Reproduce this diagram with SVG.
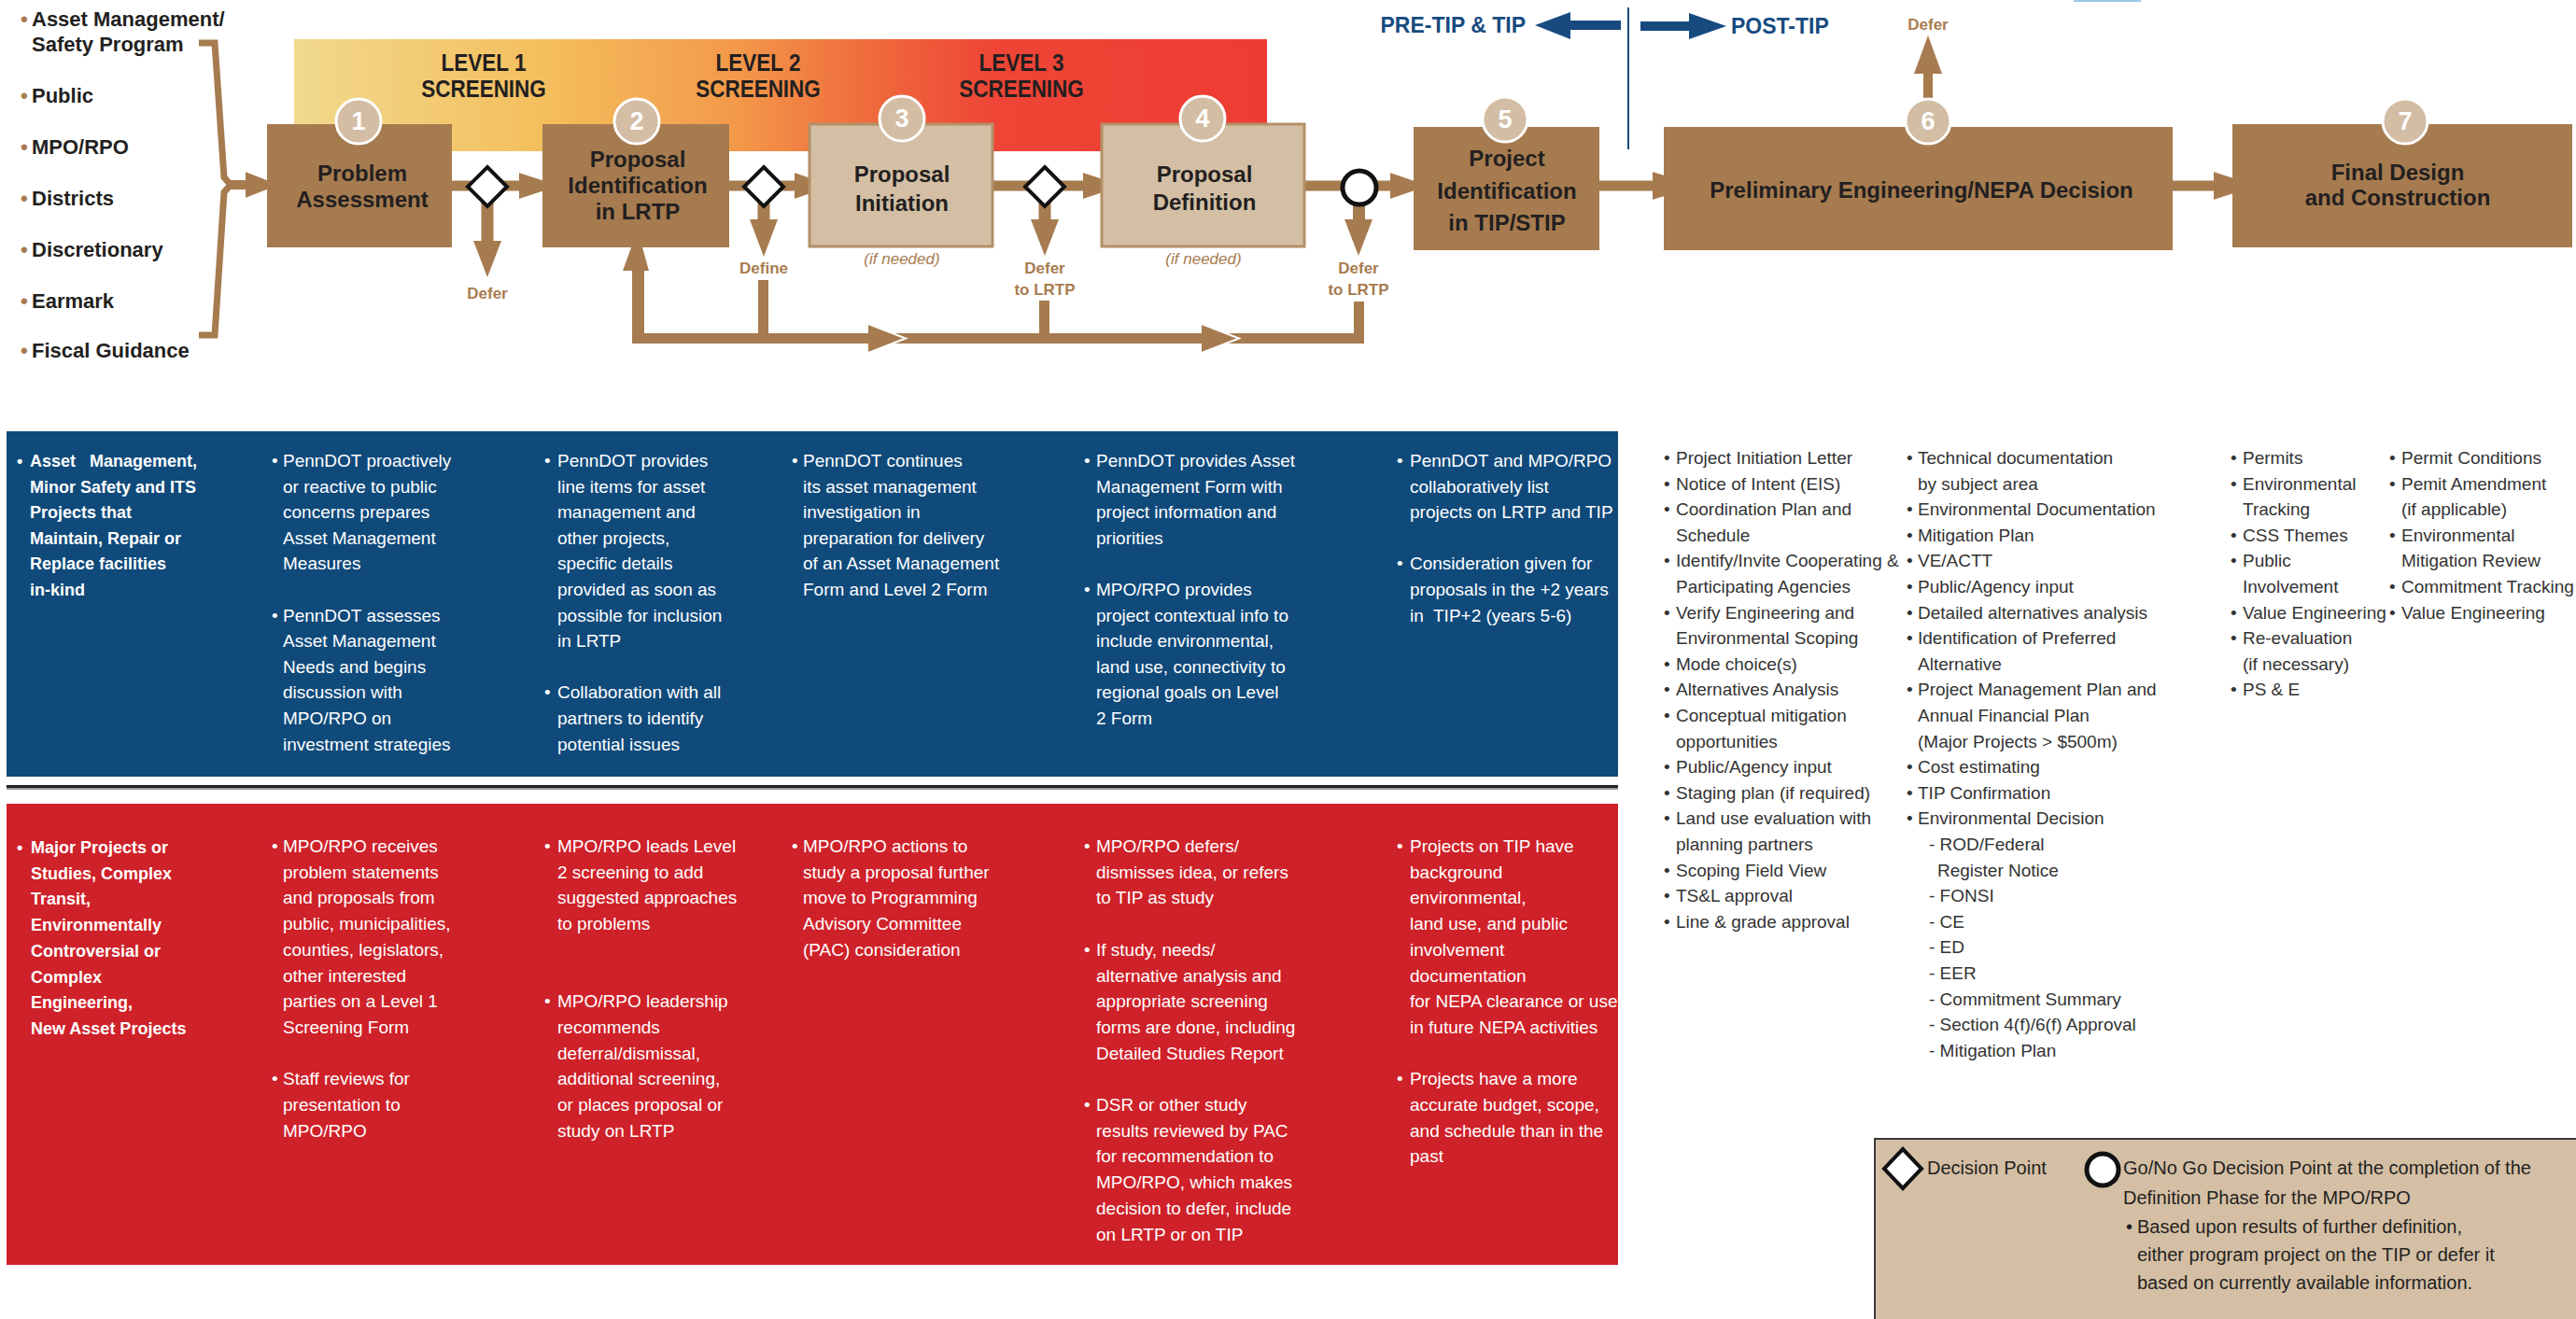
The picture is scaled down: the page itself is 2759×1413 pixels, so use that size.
<svg xmlns="http://www.w3.org/2000/svg" width="2759" height="1413" viewBox="0 0 2759 1413">
<defs>
<linearGradient id="band" x1="0" y1="0" x2="1" y2="0">
<stop offset="0" stop-color="#f1d98e"/>
<stop offset="0.25" stop-color="#f4bf5e"/>
<stop offset="0.45" stop-color="#f39a4a"/>
<stop offset="0.6" stop-color="#ef683c"/>
<stop offset="0.72" stop-color="#ee4536"/>
<stop offset="1" stop-color="#ee3c33"/>
</linearGradient>
</defs>
<style>
text{font-family:'Liberation Sans',Arial,sans-serif;}
.src{font-size:22px;font-weight:bold;fill:#231f20;}
.dot{font-size:22px;font-weight:bold;fill:#a67b4f;}
.box{fill:#a67b4f;}
.lbox{fill:#d4bfa5;stroke:#b49068;stroke-width:3;}
.bl{font-size:24px;font-weight:bold;fill:#231f20;text-anchor:middle;}
.lvl{font-size:25px;font-weight:bold;fill:#231f20;text-anchor:middle;}
.num{fill:#d3bda4;stroke:#fff;stroke-width:3;}
.numt{font-size:27px;font-weight:bold;fill:#fff;text-anchor:middle;}
.dia{fill:#fff;stroke:#111;stroke-width:4;}
.br{fill:#a67b4f;}
.brs{fill:none;stroke:#a67b4f;}
.ahs{fill:none;stroke:#fff;stroke-width:2;}
.tan{font-size:17px;font-weight:bold;fill:#a87c4f;text-anchor:middle;}
.ifn{font-size:17px;font-style:italic;fill:#a87c4f;text-anchor:middle;}
.tip{font-size:23px;font-weight:bold;fill:#174b80;}
.pt{font-size:19px;fill:#fff;}
.pb{font-size:18px;font-weight:bold;fill:#fff;}
.gl{font-size:19px;fill:#333;}
.lg{font-size:20px;fill:#231f20;}
</style>

<rect x="2221" y="0" width="72" height="2" fill="#9cc8e6"/>

<g id="sources">
<text class="dot" x="22" y="28">•</text><text class="src" x="34" y="28">Asset Management/</text>
<text class="src" x="34" y="55">Safety Program</text>
<text class="dot" x="22" y="110">•</text><text class="src" x="34" y="110">Public</text>
<text class="dot" x="22" y="165">•</text><text class="src" x="34" y="165">MPO/RPO</text>
<text class="dot" x="22" y="220">•</text><text class="src" x="34" y="220">Districts</text>
<text class="dot" x="22" y="275">•</text><text class="src" x="34" y="275">Discretionary</text>
<text class="dot" x="22" y="330">•</text><text class="src" x="34" y="330">Earmark</text>
<text class="dot" x="22" y="383">•</text><text class="src" x="34" y="383">Fiscal Guidance</text>
</g>

<g id="screening-band">
<rect x="315" y="42" width="1042" height="120" fill="url(#band)"/>
<g transform="translate(518 0) scale(0.9 1)">
<text class="lvl" x="0" y="76">LEVEL 1</text>
<text class="lvl" x="0" y="104">SCREENING</text>
</g>
<g transform="translate(812 0) scale(0.9 1)">
<text class="lvl" x="0" y="76">LEVEL 2</text>
<text class="lvl" x="0" y="104">SCREENING</text>
</g>
<g transform="translate(1094 0) scale(0.9 1)">
<text class="lvl" x="0" y="76">LEVEL 3</text>
<text class="lvl" x="0" y="104">SCREENING</text>
</g>
</g>

<g id="tip-divider">
<line x1="1744" y1="8" x2="1744" y2="160" stroke="#174b80" stroke-width="2"/>
<polygon points="1644,27 1682,13 1682,22 1736,22 1736,32 1682,32 1682,42" fill="#174b80"/>
<polygon points="1849,28 1809,14 1809,23 1757,23 1757,33 1809,33 1809,42" fill="#174b80"/>
<text class="tip" x="1634" y="35" text-anchor="end">PRE-TIP &amp; TIP</text>
<text class="tip" x="1854" y="36">POST-TIP</text>
</g>

<g id="connectors">
<polyline class="brs" stroke-width="7" points="213,46 230,46 240,190 247,198 240,206 230,359 213,359"/>
<rect class="br" x="245" y="193" width="20" height="10"/>
<polygon class="br" points="263,183 301,198 263,213"/>
<polyline class="ahs" points="263,183 301,198 263,213"/>

<rect class="br" x="484" y="193.5" width="76" height="11"/>
<polygon class="br" points="556,184 602,199 556,214"/>
<polyline class="ahs" points="556,184 602,199 556,214"/>

<rect class="br" x="781" y="193.5" width="75" height="11"/>
<polygon class="br" points="851,184 895,199 851,214"/>
<polyline class="ahs" points="851,184 895,199 851,214"/>

<rect class="br" x="1063" y="193.5" width="102" height="11"/>
<polygon class="br" points="1160,184 1206,199 1160,214"/>
<polyline class="ahs" points="1160,184 1206,199 1160,214"/>

<rect class="br" x="1397" y="193.5" width="96" height="11"/>
<polygon class="br" points="1489,184 1533,199 1489,214"/>
<polyline class="ahs" points="1489,184 1533,199 1489,214"/>

<rect class="br" x="1713" y="193.5" width="62" height="11"/>
<polygon class="br" points="1770,183 1820,199 1770,215"/>
<polyline class="ahs" points="1770,183 1820,199 1770,215"/>

<rect class="br" x="2327" y="193.5" width="48" height="11"/>
<polygon class="br" points="2371,183 2420,199 2371,215"/>
<polyline class="ahs" points="2371,183 2420,199 2371,215"/>

<rect class="br" x="515.5" y="215" width="13" height="45"/>
<polygon class="br" points="507,258 537,258 522,297"/>

<rect class="br" x="811.5" y="215" width="13" height="22"/>
<polygon class="br" points="803,235 833,235 818,275"/>

<rect class="br" x="1112.5" y="215" width="13" height="22"/>
<polygon class="br" points="1104,235 1134,235 1119,274"/>

<rect class="br" x="1449" y="215" width="13" height="22"/>
<polygon class="br" points="1440,235 1470,235 1455,274"/>

<rect class="br" x="2060" y="76" width="10" height="31"/>
<polygon class="br" points="2050,79 2080,79 2065,38"/>

<rect class="br" x="812" y="300" width="11" height="67"/>
<rect class="br" x="1113" y="322" width="11" height="45"/>
<rect class="br" x="1450" y="323" width="11" height="45"/>
<rect class="br" x="677" y="357" width="784" height="11"/>
<rect class="br" x="677" y="288" width="13" height="80"/>
<polygon class="br" points="666,290 696,290 683,243"/>
<polyline class="ahs" points="666,290 683,243 696,290"/>
<polygon class="br" points="930,347 970,362.5 930,378"/>
<polyline class="ahs" points="930,347 970,362.5 930,378"/>
<polygon class="br" points="1287,347 1327,362.5 1287,378"/>
<polyline class="ahs" points="1287,347 1327,362.5 1287,378"/>
</g>

<g id="labels">
<text class="tan" x="522" y="320">Defer</text>
<text class="tan" x="818" y="293">Define</text>
<text class="tan" x="1119" y="293">Defer</text>
<text class="tan" x="1119" y="316">to LRTP</text>
<text class="tan" x="1455" y="293">Defer</text>
<text class="tan" x="1455" y="316">to LRTP</text>
<text class="tan" x="2065" y="32">Defer</text>
<text class="ifn" x="966" y="283">(if needed)</text>
<text class="ifn" x="1289" y="283">(if needed)</text>
</g>

<g id="decision-1"><polygon class="dia" points="522,179 543,200 522,221 501,200"/></g>
<g id="decision-2"><polygon class="dia" points="818,179 839,200 818,221 797,200"/></g>
<g id="decision-3"><polygon class="dia" points="1119,179 1140,200 1119,221 1098,200"/></g>
<g id="gonogo"><circle cx="1456" cy="201" r="18" fill="#fff" stroke="#111" stroke-width="5"/></g>

<g id="step-1">
<rect class="box" x="286" y="133" width="198" height="132"/>
<circle class="num" cx="384" cy="130" r="24"/>
<text class="numt" x="384" y="139">1</text>
<text class="bl" x="388" y="194">Problem</text>
<text class="bl" x="388" y="222">Assessment</text>
</g>
<g id="step-2">
<rect class="box" x="581" y="133" width="200" height="132"/>
<circle class="num" cx="682" cy="130" r="24"/>
<text class="numt" x="682" y="139">2</text>
<text class="bl" x="683" y="179">Proposal</text>
<text class="bl" x="683" y="207">Identification</text>
<text class="bl" x="683" y="235">in LRTP</text>
</g>
<g id="step-3">
<rect class="lbox" x="867" y="133" width="196" height="131"/>
<circle class="num" cx="966" cy="127" r="24"/>
<text class="numt" x="966" y="136">3</text>
<text class="bl" x="966" y="195">Proposal</text>
<text class="bl" x="966" y="226">Initiation</text>
</g>
<g id="step-4">
<rect class="lbox" x="1180" y="133" width="217" height="131"/>
<circle class="num" cx="1288" cy="127" r="24"/>
<text class="numt" x="1288" y="136">4</text>
<text class="bl" x="1290" y="195">Proposal</text>
<text class="bl" x="1290" y="225">Definition</text>
</g>
<g id="step-5">
<rect class="box" x="1514" y="136" width="199" height="132"/>
<circle class="num" cx="1612" cy="128" r="24"/>
<text class="numt" x="1612" y="137">5</text>
<text class="bl" x="1614" y="178">Project</text>
<text class="bl" x="1614" y="213">Identification</text>
<text class="bl" x="1614" y="247">in TIP/STIP</text>
</g>
<g id="step-6">
<rect class="box" x="1782" y="136" width="545" height="132"/>
<circle class="num" cx="2065" cy="130" r="24"/>
<text class="numt" x="2065" y="139">6</text>
<text class="bl" x="2058" y="212">Preliminary Engineering/NEPA Decision</text>
</g>
<g id="step-7">
<rect class="box" x="2391" y="133" width="364" height="132"/>
<circle class="num" cx="2576" cy="130" r="24"/>
<text class="numt" x="2576" y="139">7</text>
<text class="bl" x="2568" y="193">Final Design</text>
<text class="bl" x="2568" y="220">and Construction</text>
</g>

<g id="asset-panel">
<rect x="7" y="462" width="1726" height="370" fill="#0f4a7b"/>
<text class="pb" x="18" y="500">•</text>
<text class="pb" x="32" y="500" xml:space="preserve">Asset   Management,</text>
<text class="pb" x="32" y="527.6">Minor Safety and ITS</text>
<text class="pb" x="32" y="555.2">Projects that</text>
<text class="pb" x="32" y="582.8">Maintain, Repair or</text>
<text class="pb" x="32" y="610.4">Replace facilities</text>
<text class="pb" x="32" y="638">in-kind</text>

<text class="pt" x="291" y="500">•</text>
<text class="pt" x="303" y="500">PennDOT proactively</text>
<text class="pt" x="303" y="527.6">or reactive to public</text>
<text class="pt" x="303" y="555.2">concerns prepares</text>
<text class="pt" x="303" y="582.8">Asset Management</text>
<text class="pt" x="303" y="610.4">Measures</text>
<text class="pt" x="291" y="665.6">•</text>
<text class="pt" x="303" y="665.6">PennDOT assesses</text>
<text class="pt" x="303" y="693.2">Asset Management</text>
<text class="pt" x="303" y="720.8">Needs and begins</text>
<text class="pt" x="303" y="748.4">discussion with</text>
<text class="pt" x="303" y="776">MPO/RPO on</text>
<text class="pt" x="303" y="803.6">investment strategies</text>

<text class="pt" x="583" y="500">•</text>
<text class="pt" x="597" y="500">PennDOT provides</text>
<text class="pt" x="597" y="527.6">line items for asset</text>
<text class="pt" x="597" y="555.2">management and</text>
<text class="pt" x="597" y="582.8">other projects,</text>
<text class="pt" x="597" y="610.4">specific details</text>
<text class="pt" x="597" y="638">provided as soon as</text>
<text class="pt" x="597" y="665.6">possible for inclusion</text>
<text class="pt" x="597" y="693.2">in LRTP</text>
<text class="pt" x="583" y="748.4">•</text>
<text class="pt" x="597" y="748.4">Collaboration with all</text>
<text class="pt" x="597" y="776">partners to identify</text>
<text class="pt" x="597" y="803.6">potential issues</text>

<text class="pt" x="848" y="500">•</text>
<text class="pt" x="860" y="500">PennDOT continues</text>
<text class="pt" x="860" y="527.6">its asset management</text>
<text class="pt" x="860" y="555.2">investigation in</text>
<text class="pt" x="860" y="582.8">preparation for delivery</text>
<text class="pt" x="860" y="610.4">of an Asset Management</text>
<text class="pt" x="860" y="638">Form and Level 2 Form</text>

<text class="pt" x="1161" y="500">•</text>
<text class="pt" x="1174" y="500">PennDOT provides Asset</text>
<text class="pt" x="1174" y="527.6">Management Form with</text>
<text class="pt" x="1174" y="555.2">project information and</text>
<text class="pt" x="1174" y="582.8">priorities</text>
<text class="pt" x="1161" y="638">•</text>
<text class="pt" x="1174" y="638">MPO/RPO provides</text>
<text class="pt" x="1174" y="665.6">project contextual info to</text>
<text class="pt" x="1174" y="693.2">include environmental,</text>
<text class="pt" x="1174" y="720.8">land use, connectivity to</text>
<text class="pt" x="1174" y="748.4">regional goals on Level</text>
<text class="pt" x="1174" y="776">2 Form</text>

<text class="pt" x="1496" y="500">•</text>
<text class="pt" x="1510" y="500">PennDOT and MPO/RPO</text>
<text class="pt" x="1510" y="527.6">collaboratively list</text>
<text class="pt" x="1510" y="555.2">projects on LRTP and TIP</text>
<text class="pt" x="1496" y="610.4">•</text>
<text class="pt" x="1510" y="610.4">Consideration given for</text>
<text class="pt" x="1510" y="638">proposals in the +2 years</text>
<text class="pt" x="1510" y="665.6" xml:space="preserve">in  TIP+2 (years 5-6)</text>
</g>

<g id="separator">
<rect x="7" y="841" width="1726" height="3" fill="#222"/>
<rect x="7" y="844" width="1726" height="2" fill="#999"/>
</g>

<g id="major-panel">
<rect x="7" y="861" width="1726" height="494" fill="#cf2129"/>
<text class="pb" x="18" y="914">•</text>
<text class="pb" x="33" y="914">Major Projects or</text>
<text class="pb" x="33" y="941.7">Studies, Complex</text>
<text class="pb" x="33" y="969.4">Transit,</text>
<text class="pb" x="33" y="997.1">Environmentally</text>
<text class="pb" x="33" y="1024.8">Controversial or</text>
<text class="pb" x="33" y="1052.5">Complex</text>
<text class="pb" x="33" y="1080.2">Engineering,</text>
<text class="pb" x="33" y="1107.9">New Asset Projects</text>

<text class="pt" x="291" y="913">•</text>
<text class="pt" x="303" y="913">MPO/RPO receives</text>
<text class="pt" x="303" y="940.7">problem statements</text>
<text class="pt" x="303" y="968.4">and proposals from</text>
<text class="pt" x="303" y="996.1">public, municipalities,</text>
<text class="pt" x="303" y="1023.8">counties, legislators,</text>
<text class="pt" x="303" y="1051.5">other interested</text>
<text class="pt" x="303" y="1079.2">parties on a Level 1</text>
<text class="pt" x="303" y="1106.9">Screening Form</text>
<text class="pt" x="291" y="1162.3">•</text>
<text class="pt" x="303" y="1162.3">Staff reviews for</text>
<text class="pt" x="303" y="1190">presentation to</text>
<text class="pt" x="303" y="1217.7">MPO/RPO</text>

<text class="pt" x="583" y="913">•</text>
<text class="pt" x="597" y="913">MPO/RPO leads Level</text>
<text class="pt" x="597" y="940.7">2 screening to add</text>
<text class="pt" x="597" y="968.4">suggested approaches</text>
<text class="pt" x="597" y="996.1">to problems</text>
<text class="pt" x="583" y="1079.2">•</text>
<text class="pt" x="597" y="1079.2">MPO/RPO leadership</text>
<text class="pt" x="597" y="1106.9">recommends</text>
<text class="pt" x="597" y="1134.6">deferral/dismissal,</text>
<text class="pt" x="597" y="1162.3">additional screening,</text>
<text class="pt" x="597" y="1190">or places proposal or</text>
<text class="pt" x="597" y="1217.7">study on LRTP</text>

<text class="pt" x="848" y="913">•</text>
<text class="pt" x="860" y="913">MPO/RPO actions to</text>
<text class="pt" x="860" y="940.7">study a proposal further</text>
<text class="pt" x="860" y="968.4">move to Programming</text>
<text class="pt" x="860" y="996.1">Advisory Committee</text>
<text class="pt" x="860" y="1023.8">(PAC) consideration</text>

<text class="pt" x="1161" y="913">•</text>
<text class="pt" x="1174" y="913">MPO/RPO defers/</text>
<text class="pt" x="1174" y="940.7">dismisses idea, or refers</text>
<text class="pt" x="1174" y="968.4">to TIP as study</text>
<text class="pt" x="1161" y="1023.8">•</text>
<text class="pt" x="1174" y="1023.8">If study, needs/</text>
<text class="pt" x="1174" y="1051.5">alternative analysis and</text>
<text class="pt" x="1174" y="1079.2">appropriate screening</text>
<text class="pt" x="1174" y="1106.9">forms are done, including</text>
<text class="pt" x="1174" y="1134.6">Detailed Studies Report</text>
<text class="pt" x="1161" y="1190">•</text>
<text class="pt" x="1174" y="1190">DSR or other study</text>
<text class="pt" x="1174" y="1217.7">results reviewed by PAC</text>
<text class="pt" x="1174" y="1245.4">for recommendation to</text>
<text class="pt" x="1174" y="1273.1">MPO/RPO, which makes</text>
<text class="pt" x="1174" y="1300.8">decision to defer, include</text>
<text class="pt" x="1174" y="1328.5">on LRTP or on TIP</text>

<text class="pt" x="1496" y="913">•</text>
<text class="pt" x="1510" y="913">Projects on TIP have</text>
<text class="pt" x="1510" y="940.7">background</text>
<text class="pt" x="1510" y="968.4">environmental,</text>
<text class="pt" x="1510" y="996.1">land use, and public</text>
<text class="pt" x="1510" y="1023.8">involvement</text>
<text class="pt" x="1510" y="1051.5">documentation</text>
<text class="pt" x="1510" y="1079.2">for NEPA clearance or use</text>
<text class="pt" x="1510" y="1106.9">in future NEPA activities</text>
<text class="pt" x="1496" y="1162.3">•</text>
<text class="pt" x="1510" y="1162.3">Projects have a more</text>
<text class="pt" x="1510" y="1190">accurate budget, scope,</text>
<text class="pt" x="1510" y="1217.7">and schedule than in the</text>
<text class="pt" x="1510" y="1245.4">past</text>
</g>

<g id="deliverables-tip">
<text class="gl" x="1782" y="497">•</text><text class="gl" x="1795" y="497">Project Initiation Letter</text>
<text class="gl" x="1782" y="524.6">•</text><text class="gl" x="1795" y="524.6">Notice of Intent (EIS)</text>
<text class="gl" x="1782" y="552.2">•</text><text class="gl" x="1795" y="552.2">Coordination Plan and</text>
<text class="gl" x="1795" y="579.8">Schedule</text>
<text class="gl" x="1782" y="607.4">•</text><text class="gl" x="1795" y="607.4">Identify/Invite Cooperating &amp;</text>
<text class="gl" x="1795" y="635">Participating Agencies</text>
<text class="gl" x="1782" y="662.6">•</text><text class="gl" x="1795" y="662.6">Verify Engineering and</text>
<text class="gl" x="1795" y="690.2">Environmental Scoping</text>
<text class="gl" x="1782" y="717.8">•</text><text class="gl" x="1795" y="717.8">Mode choice(s)</text>
<text class="gl" x="1782" y="745.4">•</text><text class="gl" x="1795" y="745.4">Alternatives Analysis</text>
<text class="gl" x="1782" y="773">•</text><text class="gl" x="1795" y="773">Conceptual mitigation</text>
<text class="gl" x="1795" y="800.6">opportunities</text>
<text class="gl" x="1782" y="828.2">•</text><text class="gl" x="1795" y="828.2">Public/Agency input</text>
<text class="gl" x="1782" y="855.8">•</text><text class="gl" x="1795" y="855.8">Staging plan (if required)</text>
<text class="gl" x="1782" y="883.4">•</text><text class="gl" x="1795" y="883.4">Land use evaluation with</text>
<text class="gl" x="1795" y="911">planning partners</text>
<text class="gl" x="1782" y="938.6">•</text><text class="gl" x="1795" y="938.6">Scoping Field View</text>
<text class="gl" x="1782" y="966.2">•</text><text class="gl" x="1795" y="966.2">TS&amp;L approval</text>
<text class="gl" x="1782" y="993.8">•</text><text class="gl" x="1795" y="993.8">Line &amp; grade approval</text>
</g>

<g id="deliverables-pe">
<text class="gl" x="2042" y="497">•</text><text class="gl" x="2054" y="497">Technical documentation</text>
<text class="gl" x="2054" y="524.6">by subject area</text>
<text class="gl" x="2042" y="552.2">•</text><text class="gl" x="2054" y="552.2">Environmental Documentation</text>
<text class="gl" x="2042" y="579.8">•</text><text class="gl" x="2054" y="579.8">Mitigation Plan</text>
<text class="gl" x="2042" y="607.4">•</text><text class="gl" x="2054" y="607.4">VE/ACTT</text>
<text class="gl" x="2042" y="635">•</text><text class="gl" x="2054" y="635">Public/Agency input</text>
<text class="gl" x="2042" y="662.6">•</text><text class="gl" x="2054" y="662.6">Detailed alternatives analysis</text>
<text class="gl" x="2042" y="690.2">•</text><text class="gl" x="2054" y="690.2">Identification of Preferred</text>
<text class="gl" x="2054" y="717.8">Alternative</text>
<text class="gl" x="2042" y="745.4">•</text><text class="gl" x="2054" y="745.4">Project Management Plan and</text>
<text class="gl" x="2054" y="773">Annual Financial Plan</text>
<text class="gl" x="2054" y="800.6">(Major Projects &gt; $500m)</text>
<text class="gl" x="2042" y="828.2">•</text><text class="gl" x="2054" y="828.2">Cost estimating</text>
<text class="gl" x="2042" y="855.8">•</text><text class="gl" x="2054" y="855.8">TIP Confirmation</text>
<text class="gl" x="2042" y="883.4">•</text><text class="gl" x="2054" y="883.4">Environmental Decision</text>
<text class="gl" x="2066" y="911">- ROD/Federal</text>
<text class="gl" x="2075" y="938.6">Register Notice</text>
<text class="gl" x="2066" y="966.2">- FONSI</text>
<text class="gl" x="2066" y="993.8">- CE</text>
<text class="gl" x="2066" y="1021.4">- ED</text>
<text class="gl" x="2066" y="1049">- EER</text>
<text class="gl" x="2066" y="1076.6">- Commitment Summary</text>
<text class="gl" x="2066" y="1104.2">- Section 4(f)/6(f) Approval</text>
<text class="gl" x="2066" y="1131.8">- Mitigation Plan</text>
</g>

<g id="deliverables-final">
<text class="gl" x="2389" y="497">•</text><text class="gl" x="2402" y="497">Permits</text>
<text class="gl" x="2389" y="524.6">•</text><text class="gl" x="2402" y="524.6">Environmental</text>
<text class="gl" x="2402" y="552.2">Tracking</text>
<text class="gl" x="2389" y="579.8">•</text><text class="gl" x="2402" y="579.8">CSS Themes</text>
<text class="gl" x="2389" y="607.4">•</text><text class="gl" x="2402" y="607.4">Public</text>
<text class="gl" x="2402" y="635">Involvement</text>
<text class="gl" x="2389" y="662.6">•</text><text class="gl" x="2402" y="662.6">Value Engineering</text>
<text class="gl" x="2389" y="690.2">•</text><text class="gl" x="2402" y="690.2">Re-evaluation</text>
<text class="gl" x="2402" y="717.8">(if necessary)</text>
<text class="gl" x="2389" y="745.4">•</text><text class="gl" x="2402" y="745.4">PS &amp; E</text>

<text class="gl" x="2559" y="497">•</text><text class="gl" x="2572" y="497">Permit Conditions</text>
<text class="gl" x="2559" y="524.6">•</text><text class="gl" x="2572" y="524.6">Pemit Amendment</text>
<text class="gl" x="2572" y="552.2">(if applicable)</text>
<text class="gl" x="2559" y="579.8">•</text><text class="gl" x="2572" y="579.8">Environmental</text>
<text class="gl" x="2572" y="607.4">Mitigation Review</text>
<text class="gl" x="2559" y="635">•</text><text class="gl" x="2572" y="635">Commitment Tracking</text>
<text class="gl" x="2559" y="662.6">•</text><text class="gl" x="2572" y="662.6">Value Engineering</text>
</g>

<g id="legend">
<rect x="2008" y="1220" width="760" height="210" fill="#d4bfa5" stroke="#3a3a3a" stroke-width="2"/>
<polygon class="dia" points="2038,1231 2058,1252 2038,1273 2018,1252"/>
<text class="lg" x="2064" y="1258">Decision Point</text>
<circle cx="2252" cy="1253" r="17" fill="#fff" stroke="#111" stroke-width="5"/>
<text class="lg" x="2274" y="1258">Go/No Go Decision Point at the completion of the</text>
<text class="lg" x="2274" y="1290">Definition Phase for the MPO/RPO</text>
<text class="lg" x="2277" y="1321">•</text>
<text class="lg" x="2289" y="1321">Based upon results of further definition,</text>
<text class="lg" x="2289" y="1351">either program project on the TIP or defer it</text>
<text class="lg" x="2289" y="1381">based on currently available information.</text>
</g>
</svg>
